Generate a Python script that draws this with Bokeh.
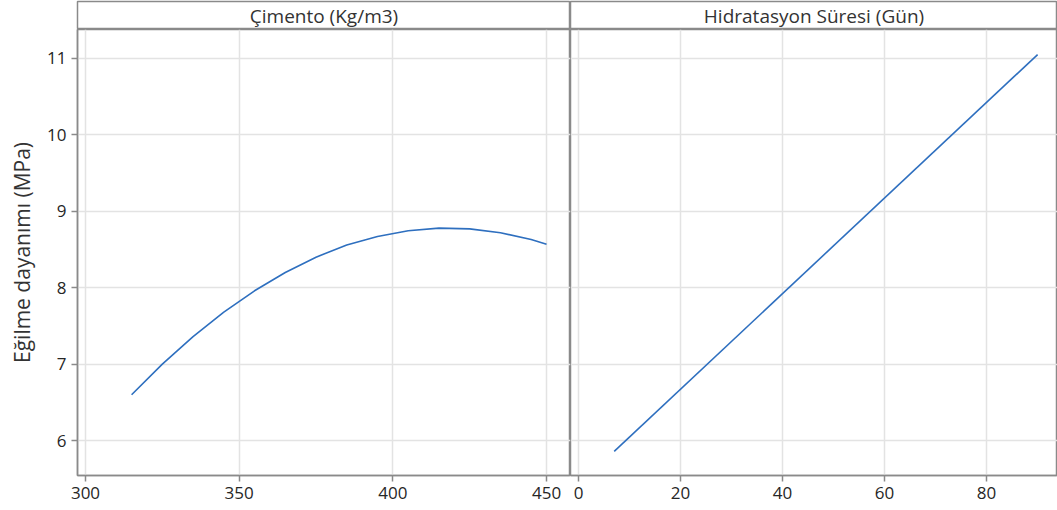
from bokeh.plotting import figure
from bokeh.layouts import gridplot
from bokeh.models import Range1d, FixedTicker, ColumnDataSource
from bokeh.core.properties import value
from bokeh.embed import file_html
from bokeh.resources import INLINE

# ---- data ----
cimento_x = [315, 325, 335, 345, 355, 365, 375, 385, 395, 405, 415, 425, 435, 445, 450]
cimento_y = [6.60, 7.00, 7.36, 7.68, 7.96, 8.20, 8.40, 8.56, 8.67, 8.745, 8.78, 8.77, 8.72, 8.63, 8.57]
gun_x = [7, 90]
gun_y = [5.86, 11.05]
panel_titles = ["Çimento (Kg/m3)", "Hidratasyon Süresi (Gün)"]
y_label = "Eğilme dayanımı (MPa)"
y_ticks = [6, 7, 8, 9, 10, 11]
x_ticks_left = [300, 350, 400, 450]
x_ticks_right = [0, 20, 40, 60, 80]

FONT = "Open Sans"
FRAME = "#8a8a8a"
GRID = "#e3e3e3"
LINE = "#2e6fbf"
TEXT = "#262626"

W_LEFT = 570
W_RIGHT = 487
STRIP_H = 29
MAIN_H = 481
Y_RANGE = (5.544, 11.378)


def strip(title, width, left_border):
    s = figure(width=width, height=STRIP_H, x_range=Range1d(0, 1), y_range=Range1d(0, 1),
               output_backend="svg", toolbar_location=None,
               min_border_left=left_border, min_border_right=0,
               min_border_top=1, min_border_bottom=0)
    s.axis.visible = False
    s.grid.visible = False
    s.outline_line_color = FRAME
    s.outline_line_width = 1.5
    s.background_fill_color = "white"
    s.text(x=[0.5], y=[0.5], text=[title], text_align="center", text_baseline="middle",
           text_font=value(FONT), text_font_size="19px", text_color="#333333")
    return s


def style_main(p, xticks):
    p.outline_line_color = FRAME
    p.outline_line_width = 1.5
    p.xgrid.ticker = FixedTicker(ticks=xticks)
    p.ygrid.ticker = FixedTicker(ticks=y_ticks)
    p.grid.grid_line_color = GRID
    p.grid.grid_line_width = 1.5
    p.xaxis.ticker = FixedTicker(ticks=xticks)
    p.yaxis.ticker = FixedTicker(ticks=y_ticks)
    for ax in p.axis:
        ax.axis_line_color = FRAME
        ax.axis_line_width = 1.5
        ax.major_tick_line_color = FRAME
        ax.major_tick_line_width = 1.5
        ax.major_tick_out = 6
        ax.major_tick_in = 0
        ax.minor_tick_line_color = None
        ax.major_label_text_font = FONT
        ax.major_label_text_font_size = "17px"
        ax.major_label_text_color = TEXT
        ax.major_label_standoff = 5


s1 = strip(panel_titles[0], W_LEFT, 77)
s2 = strip(panel_titles[1], W_RIGHT, 0)

p1 = figure(width=W_LEFT, height=MAIN_H, x_range=Range1d(297.4, 457.8),
            y_range=Range1d(*Y_RANGE), output_backend="svg", toolbar_location=None,
            min_border_left=77, min_border_right=0, min_border_top=0, min_border_bottom=35)
style_main(p1, x_ticks_left)
p1.yaxis.axis_label = y_label
p1.yaxis.axis_label_text_font = FONT
p1.yaxis.axis_label_text_font_size = "21px"
p1.yaxis.axis_label_text_font_style = "normal"
p1.yaxis.axis_label_text_color = "#333333"
p1.yaxis.axis_label_standoff = 8
p1.line(x="x", y="y", source=ColumnDataSource(dict(x=cimento_x, y=cimento_y)),
        line_color=LINE, line_width=1.6)

p2 = figure(width=W_RIGHT, height=MAIN_H, x_range=Range1d(-1.57, 93.9),
            y_range=Range1d(*Y_RANGE), output_backend="svg", toolbar_location=None,
            min_border_left=0, min_border_right=0, min_border_top=0, min_border_bottom=35)
style_main(p2, x_ticks_right)
p2.yaxis.visible = False
p2.line(x="x", y="y", source=ColumnDataSource(dict(x=gun_x, y=gun_y)),
        line_color=LINE, line_width=1.6)

grid = gridplot([[s1, s2], [p1, p2]], toolbar_location=None)

open("out.html", "w").write(file_html(grid, INLINE))
